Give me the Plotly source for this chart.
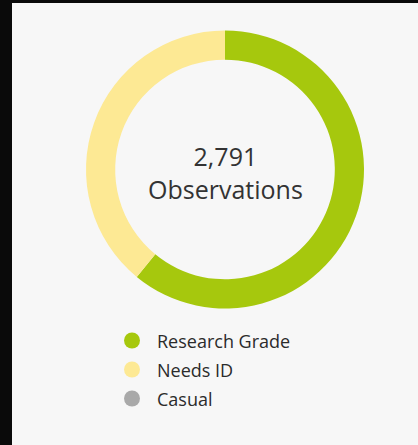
import plotly.graph_objects as go

categories = ["Research Grade", "Needs ID", "Casual"]
values = [1701, 1090, 0]
colors = ["#a6c80d", "#fde994", "#a9a9a9"]

W, H = 418, 445
total = sum(values)
FONT = "Open Sans, sans-serif"

fig = go.Figure()
fig.add_trace(go.Pie(
    labels=categories, values=values, sort=False, direction="clockwise",
    rotation=0, hole=0.79, textinfo="none", hoverinfo="label+value",
    marker=dict(colors=colors, line=dict(width=0)),
    domain=dict(x=[86 / W, 364 / W], y=[1 - 308.5 / H, 1 - 30.5 / H]),
    showlegend=False,
))

# custom legend (circles)
leg_x = 132
leg_y0 = 340.5
leg_dy = 29
fig.add_trace(go.Scatter(
    x=[leg_x] * len(categories),
    y=[leg_y0 + i * leg_dy for i in range(len(categories))],
    mode="markers",
    marker=dict(color=colors, size=16, symbol="circle", line=dict(width=0)),
    hoverinfo="skip", showlegend=False,
))
for i, c in enumerate(categories):
    fig.add_annotation(
        x=155, y=leg_y0 + i * leg_dy, xref="x", yref="y", xanchor="left",
        yanchor="middle", text=c, showarrow=False,
        font=dict(family=FONT, size=18, color="#2b2b2b"),
    )

fig.add_annotation(
    x=225, y=172, xref="x", yref="y",
    text=f"{total:,}<br>Observations", showarrow=False,
    font=dict(family=FONT, size=25, color="#333333"),
    align="center",
)

fig.update_layout(
    width=W, height=H, margin=dict(l=0, r=0, t=0, b=0),
    paper_bgcolor="#f7f7f7", plot_bgcolor="rgba(0,0,0,0)",
    xaxis=dict(range=[0, W], visible=False, fixedrange=True, domain=[0, 1]),
    yaxis=dict(range=[H, 0], visible=False, fixedrange=True, domain=[0, 1]),
    shapes=[
        dict(type="rect", xref="paper", yref="paper", x0=0, x1=12 / W, y0=0, y1=1,
             fillcolor="#0a0a0a", line=dict(width=0), layer="above"),
        dict(type="rect", xref="paper", yref="paper", x0=0, x1=1, y0=1 - 3 / H, y1=1,
             fillcolor="#0a0a0a", line=dict(width=0), layer="above"),
    ],
)

fig.write_html(
    "out.html",
    config={"displayModeBar": False},
    post_script="document.body.style.margin='0';document.body.style.overflow='hidden';",
)
